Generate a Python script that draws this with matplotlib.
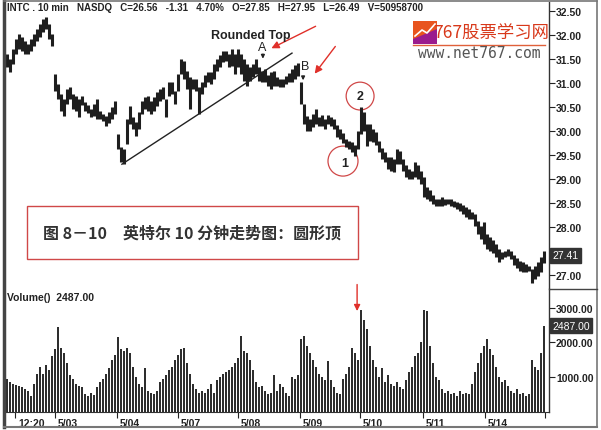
import matplotlib
matplotlib.use("Agg")
import matplotlib.pyplot as plt
import matplotlib.transforms as mtransforms
from matplotlib.lines import Line2D
from matplotlib.patches import Rectangle, Ellipse, FancyArrowPatch, Polygon
from matplotlib.ticker import FormatStrFormatter

# INTC 10 min bars (roughly one bar every 20 min)
highs = [31.60, 31.50, 31.71, 31.92, 32.02, 31.96, 31.88, 31.81, 31.92, 32.02,
         32.13, 32.23, 32.33, 32.38, 32.23, 32.02, 31.19, 30.98, 30.77, 30.67,
         30.88, 30.92, 30.77, 30.73, 30.67, 30.73, 30.60, 30.54, 30.46, 30.56,
         30.67, 30.42, 30.35, 30.31, 30.40, 30.50, 30.63, 29.94, 29.67, 29.63,
         30.25, 30.52, 30.29, 30.19, 30.40, 30.63, 30.71, 30.73, 30.63, 30.71,
         30.81, 30.88, 30.92, 30.67, 31.02, 31.02, 30.83, 31.19, 31.50, 31.46,
         31.25, 31.13, 31.08, 31.08, 30.92, 31.02, 31.17, 31.23, 31.23, 31.40,
         31.50, 31.58, 31.67, 31.67, 31.60, 31.71, 31.60, 31.71, 31.60, 31.50,
         31.40, 31.33, 31.40, 31.50, 31.33, 31.25, 31.29, 31.17, 31.23, 31.25,
         31.13, 31.08, 31.08, 31.15, 31.21, 31.29, 31.38, 31.42, 31.02, 30.56,
         30.31, 30.25, 30.35, 30.46, 30.29, 30.33, 30.25, 30.33, 30.29, 30.25,
         30.13, 30.04, 29.96, 29.83, 29.79, 29.77, 29.71, 30.00, 30.50, 30.40,
         30.15, 30.15, 30.04, 29.98, 29.79, 29.65, 29.56, 29.46, 29.46, 29.42,
         29.63, 29.58, 29.42, 29.29, 29.21, 29.17, 29.35, 29.29, 29.17, 29.04,
         28.83, 28.77, 28.67, 28.58, 28.58, 28.63, 28.58, 28.58, 28.58, 28.54,
         28.52, 28.50, 28.46, 28.42, 28.38, 28.31, 28.27, 28.13, 28.02, 28.10,
         27.85, 27.79, 27.73, 27.65, 27.54, 27.48, 27.50, 27.54, 27.50, 27.42,
         27.35, 27.29, 27.27, 27.23, 27.19, 27.13, 27.19, 27.27, 27.38, 27.50]
lows = [31.33, 31.23, 31.40, 31.60, 31.71, 31.67, 31.60, 31.60, 31.67, 31.77,
        31.88, 31.96, 32.06, 32.13, 31.92, 31.77, 30.83, 30.67, 30.42, 30.31,
        30.56, 30.67, 30.46, 30.42, 30.29, 30.54, 30.42, 30.38, 30.29, 30.31,
        30.25, 30.25, 30.21, 30.10, 30.17, 30.25, 30.35, 29.63, 29.35, 29.31,
        29.73, 30.15, 30.04, 29.90, 30.04, 30.35, 30.46, 30.42, 30.35, 30.42,
        30.52, 30.63, 30.67, 30.29, 30.73, 30.77, 30.56, 30.83, 31.19, 31.08,
        30.88, 30.46, 30.88, 30.83, 30.35, 30.77, 30.92, 31.02, 30.98, 31.08,
        31.25, 31.33, 31.44, 31.46, 31.33, 31.35, 31.19, 31.33, 31.19, 31.04,
        30.94, 31.04, 31.13, 31.19, 31.04, 31.02, 31.02, 30.94, 30.88, 30.94,
        30.94, 30.92, 30.92, 30.98, 31.02, 31.02, 31.08, 31.15, 30.56, 30.15,
        30.00, 30.00, 30.08, 30.15, 30.10, 30.10, 30.04, 30.15, 30.10, 30.04,
        29.88, 29.83, 29.75, 29.67, 29.63, 29.56, 29.48, 29.63, 29.94, 30.00,
        29.69, 29.79, 29.77, 29.71, 29.56, 29.42, 29.35, 29.21, 29.17, 29.15,
        29.31, 29.31, 29.17, 29.04, 29.00, 29.00, 29.04, 29.00, 28.90, 28.63,
        28.58, 28.54, 28.48, 28.44, 28.44, 28.44, 28.46, 28.48, 28.44, 28.42,
        28.38, 28.33, 28.27, 28.21, 28.17, 28.17, 28.02, 27.85, 27.75, 27.65,
        27.54, 27.50, 27.46, 27.38, 27.27, 27.33, 27.38, 27.40, 27.33, 27.21,
        27.15, 27.08, 27.06, 27.06, 27.08, 26.83, 26.92, 26.98, 27.06, 27.25]
volumes = [950, 850, 800, 780, 750, 700, 650, 600, 450, 800,
           1100, 1300, 1100, 1350, 1200, 1600, 1800, 2450, 1850, 1700,
           1400, 1050, 950, 800, 750, 700, 500, 450, 550, 480,
           700, 850, 950, 1100, 1250, 1500, 1650, 2150, 1800, 1750,
           1850, 1700, 1300, 1000, 800, 700, 1250, 600, 550, 500,
           600, 850, 950, 1050, 1200, 1300, 1500, 1650, 1800, 1850,
           1400, 1100, 800, 650, 550, 600, 550, 650, 800, 550,
           900, 1000, 1100, 1150, 1200, 1300, 1400, 1550, 2200, 1750,
           1700, 1500, 1200, 850, 700, 750, 600, 500, 550, 1050,
           600, 800, 700, 550, 450, 1000, 950, 1050, 2100, 2200,
           1900, 1700, 1500, 1300, 1100, 1000, 900, 1450, 900, 700,
           550, 500, 950, 1100, 1300, 1850, 1700, 1500, 2950, 2650,
           2400, 1900, 1500, 1300, 1000, 1250, 850, 1050, 800, 750,
           850, 700, 650, 900, 1150, 1300, 1600, 1700, 2000, 2950,
           2900, 1900, 1400, 1000, 900, 650, 550, 600, 500, 550,
           450, 600, 500, 550, 500, 800, 1150, 1400, 1700, 1900,
           2100, 1800, 1650, 1300, 1000, 850, 900, 750, 600, 550,
           650, 500, 550, 450, 500, 1500, 1300, 1200, 1700, 2487]

day_ticks = [2.7, 16, 36.7, 57, 77, 97.7, 117.7, 138.7, 159.3, 179.3]
day_labels = ["12:20", "5/03", "5/04", "5/07", "5/08", "5/09", "5/10", "5/11", "5/14", ""]
price_ticks = [27.0, 27.5, 28.0, 28.5, 29.0, 29.5, 30.0, 30.5, 31.0, 31.5, 32.0, 32.5]
vol_ticks = [1000, 2000, 3000]
last_price = 27.41
last_volume = 2487

header = ("INTC . 10 min   NASDQ   C=26.56   -1.31   4.70%   O=27.85   "
          "H=27.95   L=26.49   V=50958700")
caption = "图 8－10　英特尔 10 分钟走势图：圆形顶"

FONT = "Liberation Sans"
RED = "#e0302a"
BAR = "#1e1e1e"

fig = plt.figure(figsize=(6.01, 4.31), dpi=100)
fig.patch.set_facecolor("white")

W, H = 601.0, 431.0
left, right = 5 / W, 549 / W
ax = fig.add_axes([left, 1 - 290 / H, right - left, 287 / H])
axv = fig.add_axes([left, 1 - 412.5 / H, right - left, 122.5 / H], sharex=ax)

idx = list(range(len(highs)))

# price bars
ax.vlines(idx, lows, highs, color=BAR, lw=2.2)
ax.set_xlim(-0.67, 180.67)
ax.set_ylim(26.71, 32.69)

# volume bars
axv.bar(idx, volumes, width=0.9, color="#2e2e2e", linewidth=0)
axv.set_ylim(0, 3550)

for a in (ax, axv):
    a.yaxis.tick_right()
    a.spines["left"].set_visible(False)
    a.spines["top"].set_visible(False)
    a.spines["right"].set_color("#333333")
    a.spines["right"].set_linewidth(1.0)
    a.tick_params(axis="y", direction="out", length=4, width=0.8, pad=1,
                  labelsize=7.5, colors="#222222")

ax.spines["bottom"].set_visible(False)
ax.set_yticks(price_ticks)
ax.yaxis.set_major_formatter(FormatStrFormatter("%.2f"))
ax.tick_params(axis="x", bottom=False, labelbottom=False)

axv.set_yticks(vol_ticks)
axv.yaxis.set_major_formatter(FormatStrFormatter("%.2f"))
axv.spines["bottom"].set_color("#333333")
axv.set_xticks(day_ticks)
axv.set_xticklabels(day_labels)
axv.tick_params(axis="x", direction="out", length=4, width=0.8, pad=1,
                labelsize=7.5, colors="#222222")
offset = mtransforms.ScaledTranslation(0.03, 0, fig.dpi_scale_trans)
for t in axv.get_xticklabels():
    t.set_ha("left")
    t.set_fontfamily(FONT)
    t.set_fontweight("bold")
    t.set_transform(t.get_transform() + offset)
for t in axv.get_yticklabels() + ax.get_yticklabels():
    t.set_fontfamily(FONT)
    t.set_fontweight("bold")

# last value boxes on the right scale
bt = mtransforms.blended_transform_factory(ax.transAxes, ax.transData)
ax.text(1.006, last_price, "%.2f" % last_price, transform=bt, ha="left", va="center",
        color="white", fontsize=7.5, fontfamily=FONT, zorder=10, clip_on=False,
        bbox=dict(boxstyle="square,pad=0.25", facecolor="#333333", edgecolor="#333333"))
btv = mtransforms.blended_transform_factory(axv.transAxes, axv.transData)
axv.text(1.006, last_volume, "%.2f" % last_volume, transform=btv, ha="left", va="center",
         color="white", fontsize=7.5, fontfamily=FONT, zorder=10, clip_on=False,
         bbox=dict(boxstyle="square,pad=0.25", facecolor="#333333", edgecolor="#333333"))

# header and volume label
ax.text(0.004, 0.983, header, transform=ax.transAxes, ha="left", va="center",
        fontsize=7.0, fontweight="bold", fontfamily=FONT, color="#222222")
axv.text(0.004, 0.934, "Volume()  %.2f" % last_volume, transform=axv.transAxes,
         ha="left", va="center", fontsize=7.5, fontweight="bold", fontfamily=FONT,
         color="#222222")

# trendline under the rally
ax.plot([38.3, 95], [29.31, 31.625], color="#222222", lw=1.0)

# annotations: rounded top, A and B
ax.text(81.3, 32.0, "Rounded Top", ha="center", va="center", fontsize=9,
        fontweight="bold", fontfamily=FONT, color="#222222")
ax.text(85, 31.75, "A", ha="center", va="center", fontsize=9,
        fontfamily=FONT, color="#222222")
ax.text(99.3, 31.36, "B", ha="center", va="center", fontsize=9,
        fontfamily=FONT, color="#222222")
for x0, y0, y1 in [(85.3, 31.66, 31.45), (98.7, 31.20, 31.00)]:
    ax.add_patch(FancyArrowPatch((x0, y0), (x0, y1), arrowstyle="-|>",
                                 mutation_scale=5, lw=1.0, color="#222222"))
for (x0, y0), (x1, y1) in [((103.7, 32.21), (87.3, 31.70)),
                           ((110, 31.81), (102, 31.15))]:
    ax.add_patch(FancyArrowPatch((x0, y0), (x1, y1), arrowstyle="-|>",
                                 mutation_scale=11, lw=1.0, color=RED))

# circles 1 and 2
ax.add_patch(Ellipse((117.7, 30.73), 9.3, 0.58, fill=False, edgecolor="#d04848", lw=0.9))
ax.text(117.7, 30.73, "2", ha="center", va="center", fontsize=9, fontweight="bold",
        fontfamily=FONT, color="#222222")
ax.add_patch(Ellipse((112, 29.375), 10, 0.625, fill=False, edgecolor="#d04848", lw=0.9))
ax.text(112.7, 29.33, "1", ha="center", va="center", fontsize=9, fontweight="bold",
        fontfamily=FONT, color="#222222")

# red arrow on the volume spike
axv.annotate("", xy=(116.7, 2830), xytext=(116.7, 3760),
             arrowprops=dict(arrowstyle="-|>", color=RED, lw=1.0, mutation_scale=9),
             annotation_clip=False)

# caption box
ax.add_patch(Rectangle((6.7, 27.33), 110.3, 1.11, facecolor="white",
                       edgecolor="#d04848", lw=1.0, zorder=5))
ax.text(61.7, 27.875, caption, ha="center", va="center", fontsize=11.5,
        fontweight="bold", color="#333333", zorder=6,
        family=["Noto Sans CJK SC", "DejaVu Sans"])

# watermark in the top right
fig.patches.append(Rectangle((413 / W, 1 - 45 / H), 24 / W, 23 / H,
                             transform=fig.transFigure, facecolor="#e8541e",
                             edgecolor="none"))
fig.patches.append(Polygon([(413 / W, 1 - 45 / H), (437 / W, 1 - 45 / H),
                            (437 / W, 1 - 30 / H), (413 / W, 1 - 40 / H)],
                           closed=True, transform=fig.transFigure,
                           facecolor="#9a1b8e", edgecolor="none"))
fig.lines.append(Line2D([415 / W, 422 / W, 427 / W, 435 / W],
                        [1 - 37 / H, 1 - 31 / H, 1 - 34 / H, 1 - 25 / H],
                        transform=fig.transFigure, color="white", lw=1.2))
fig.text(491 / W, 1 - 33 / H, "767股票学习网", ha="center", va="center",
         fontsize=12.5, color="#d8381a", family=["Noto Sans CJK SC", "DejaVu Sans"])
fig.lines.append(Line2D([413 / W, 545 / W], [1 - 46 / H, 1 - 46 / H],
                        transform=fig.transFigure, color="#e0603a", lw=1.0))
fig.text(479 / W, 1 - 54 / H, "www.net767.com", ha="center", va="center",
         fontsize=10.5, color="#555555", family="DejaVu Sans Mono")

# outer frame
fig.lines.append(Line2D([4 / W, 4 / W], [1 - 2 / H, 1 - 428 / H],
                        transform=fig.transFigure, color="#444444", lw=2.5))
fig.lines.append(Line2D([4 / W, 597 / W], [1 - 2 / H, 1 - 2 / H],
                        transform=fig.transFigure, color="#777777", lw=1.2))
fig.lines.append(Line2D([597 / W, 597 / W], [1 - 2 / H, 1 - 428 / H],
                        transform=fig.transFigure, color="#777777", lw=1.2))
fig.lines.append(Line2D([4 / W, 597 / W], [1 - 428 / H, 1 - 428 / H],
                        transform=fig.transFigure, color="#777777", lw=1.5))
fig.lines.append(Line2D([549 / W, 597 / W], [1 - 290 / H, 1 - 290 / H],
                        transform=fig.transFigure, color="#444444", lw=1.0))

fig.savefig("out.png", dpi=100)
